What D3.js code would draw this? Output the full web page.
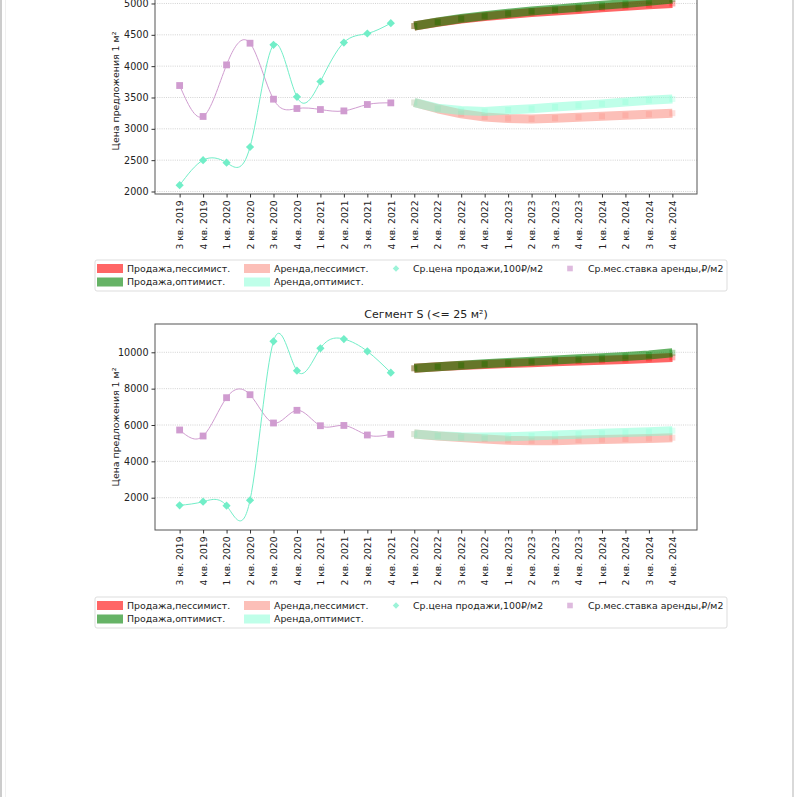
<!DOCTYPE html>
<html><head><meta charset="utf-8">
<script src="https://cdn.jsdelivr.net/npm/d3@7"></script>
<style>body{margin:0;background:#fff}svg{display:block}text{font-family:"DejaVu Sans",sans-serif}</style>
</head><body>
<svg id="c" width="795" height="797"></svg>
<script>
// ---------- DATA ----------
const quarters = ["3 кв. 2019","4 кв. 2019","1 кв. 2020","2 кв. 2020","3 кв. 2020","4 кв. 2020",
  "1 кв. 2021","2 кв. 2021","3 кв. 2021","4 кв. 2021",
  "1 кв. 2022","2 кв. 2022","3 кв. 2022","4 кв. 2022","1 кв. 2023","2 кв. 2023","3 кв. 2023","4 кв. 2023",
  "1 кв. 2024","2 кв. 2024","3 кв. 2024","4 кв. 2024"];
const histQuarters = quarters.slice(0, 10);
const foreQuarters = quarters.slice(10);

const legendLabels = ["Продажа,пессимист.","Продажа,оптимист.","Аренда,пессимист.","Аренда,оптимист.",
  "Ср.цена продажи,100₽/м2","Ср.мес.ставка аренды,₽/м2"];

// chart 1 (top, title outside the view)
const c1SalePrice = [2100,2500,2460,2710,4340,3510,3755,4377,4521,4686];
const c1Rent      = [3691,3197,4020,4366,3473,3324,3308,3286,3388,3414];
const c1SalePess  = [4640,4700,4750,4790,4825,4855,4880,4905,4930,4955,4980,5000];
const c1SaleOpt   = [4640,4705,4760,4805,4845,4880,4910,4940,4970,5000,5035,5070];
const c1RentPess  = [3420,3320,3240,3190,3165,3158,3170,3185,3200,3215,3232,3249];
const c1RentOpt   = [3420,3330,3292,3276,3300,3322,3348,3372,3398,3428,3455,3477];
const c1Ticks     = [2000,2500,3000,3500,4000,4500,5000];

// chart 2
const c2Title     = "Сегмент S (<= 25 м²)";
const c2SalePrice = [1580,1780,1560,1860,10605,8990,10220,10730,10055,8880];
const c2Rent      = [5725,5395,7503,7667,6110,6809,5960,5975,5450,5488];
const c2SalePess  = [9120,9200,9270,9330,9380,9430,9475,9520,9565,9610,9660,9720];
const c2SaleOpt   = [9120,9210,9290,9370,9440,9510,9575,9640,9705,9775,9850,9975];
const c2RentPess  = [5500,5400,5310,5230,5160,5130,5140,5170,5200,5230,5260,5300];
const c2RentOpt   = [5500,5410,5360,5340,5360,5400,5450,5490,5540,5590,5635,5690];
const c2Ticks     = [2000,4000,6000,8000,10000];

const yLabel = "Цена предложения 1 м²";

// ---------- STYLE ----------
const COL = {
  salePess: "#ff0000", saleOpt: "#008000", rentPess: "#fa8072", rentOpt: "#7fffd4",
  price: "#72eec8", rent: "#d09cd0"
};
const SALE_ALPHA = 0.6, RENT_ALPHA = 0.5;

const svg = d3.select("#c");
svg.append("rect").attr("width",795).attr("height",797).attr("fill","#fff");
// page borders
svg.append("line").attr("x1",1).attr("x2",1).attr("y1",0).attr("y2",797).attr("stroke","#bbb").attr("stroke-width",1.5);
svg.append("line").attr("x1",5.5).attr("x2",5.5).attr("y1",0).attr("y2",797).attr("stroke","#f0f0f0").attr("stroke-width",1);
svg.append("line").attr("x1",793).attr("x2",793).attr("y1",0).attr("y2",797).attr("stroke","#ccc").attr("stroke-width",1.5);

function drawChart(cfg, idx) {
  const L = 155, R = 697;
  const x = d3.scalePoint().domain(quarters).range([L, R]).padding(1.05);
  const y = d3.scaleLinear().domain(cfg.yDomain).range([cfg.bottom, cfg.top]);
  const g = svg.append("g");
  const clipId = "clip" + idx;
  g.append("clipPath").attr("id", clipId).append("rect")
    .attr("x", L).attr("y", cfg.top).attr("width", R - L).attr("height", cfg.bottom - cfg.top);

  // grid
  g.selectAll(".grid").data(cfg.ticks).join("line")
    .attr("x1", L).attr("x2", R).attr("y1", d => y(d)).attr("y2", d => y(d))
    .attr("stroke", "#c8c8c8").attr("stroke-width", 0.8).attr("stroke-dasharray", "1,1.2");

  const pg = g.append("g").attr("clip-path", `url(#${clipId})`);

  // forecast bands
  const bandLine = d3.line().x((d, i) => x(foreQuarters[i])).y(d => y(d));
  const bands = [
    [cfg.salePess, COL.salePess, SALE_ALPHA], [cfg.saleOpt, COL.saleOpt, SALE_ALPHA],
    [cfg.rentPess, COL.rentPess, RENT_ALPHA], [cfg.rentOpt, COL.rentOpt, RENT_ALPHA]
  ];
  bands.forEach(([arr, col, a]) => {
    pg.append("path").attr("d", bandLine(arr)).attr("fill", "none").attr("stroke", col)
      .attr("stroke-opacity", a).attr("stroke-width", 9).attr("stroke-linejoin", "round");
    pg.selectAll(null).data(arr).join("rect")
      .attr("x", (d, i) => x(foreQuarters[i]) - 3).attr("y", d => y(d) - 3)
      .attr("width", 6).attr("height", 6).attr("fill", col).attr("fill-opacity", a * 0.5);
  });

  // historical smooth curves
  const histLine = d3.line().x((d, i) => x(histQuarters[i])).y(d => y(d)).curve(d3.curveNatural);
  pg.append("path").attr("d", histLine(cfg.rent)).attr("fill", "none").attr("stroke", COL.rent).attr("stroke-width", 1);
  pg.append("path").attr("d", histLine(cfg.price)).attr("fill", "none").attr("stroke", COL.price).attr("stroke-width", 1);
  pg.selectAll(null).data(cfg.rent).join("rect")
    .attr("x", (d, i) => x(histQuarters[i]) - 3.4).attr("y", d => y(d) - 3.4)
    .attr("width", 6.8).attr("height", 6.8).attr("fill", COL.rent);
  pg.selectAll(null).data(cfg.price).join("rect")
    .attr("width", 5.8).attr("height", 5.8).attr("x", -2.9).attr("y", -2.9)
    .attr("transform", (d, i) => `translate(${x(histQuarters[i])},${y(d)}) rotate(45)`)
    .attr("fill", COL.price);

  // spines
  const sp = g.append("g").attr("stroke", "#555").attr("stroke-width", 1).attr("fill", "none");
  sp.append("rect").attr("x", L).attr("y", cfg.top).attr("width", R - L).attr("height", cfg.bottom - cfg.top);

  // y axis
  const ya = g.append("g").attr("transform", `translate(${L},0)`)
    .call(d3.axisLeft(y).tickValues(cfg.ticks).tickSize(3.5).tickPadding(3).tickFormat(d3.format("d")));
  ya.select(".domain").remove();
  ya.selectAll("line").attr("stroke", "#333");
  ya.selectAll("text").attr("font-size", 9.6).attr("fill", "#222").attr("font-family", "DejaVu Sans");

  // x axis
  const xa = g.append("g").attr("transform", `translate(0,${cfg.bottom})`)
    .call(d3.axisBottom(x).tickSize(3.5).tickPadding(3));
  xa.select(".domain").remove();
  xa.selectAll("line").attr("stroke", "#333");
  xa.selectAll("text").attr("font-size", 9.2).attr("fill", "#222").attr("font-family", "DejaVu Sans")
    .attr("text-anchor", "end").attr("transform", "rotate(-90)")
    .attr("x", -6.5).attr("y", 0).attr("dy", "0.35em");

  // y label
  g.append("text").attr("transform", `translate(119,${(cfg.top + cfg.bottom) / 2}) rotate(-90)`)
    .attr("text-anchor", "middle").attr("font-size", 9.4).attr("fill", "#222").text(yLabel);

  if (cfg.title) {
    g.append("text").attr("x", (L + R) / 2).attr("y", cfg.top - 6).attr("text-anchor", "middle")
      .attr("font-size", 11).attr("fill", "#222").text(cfg.title);
  }

  // legend
  const lg = g.append("g").attr("transform", `translate(95,${cfg.legendTop})`);
  lg.append("rect").attr("x", 0).attr("y", 0).attr("width", 632).attr("height", 31).attr("rx", 2)
    .attr("fill", "#fff").attr("stroke", "#ddd").attr("stroke-width", 1);
  const r1 = 8.5, r2 = 22;
  const items = [
    {type: "patch", col: COL.salePess, a: SALE_ALPHA, px: 2, tx: 32, y: r1, label: legendLabels[0]},
    {type: "patch", col: COL.saleOpt, a: SALE_ALPHA, px: 2, tx: 32, y: r2, label: legendLabels[1]},
    {type: "patch", col: COL.rentPess, a: RENT_ALPHA, px: 149, tx: 179, y: r1, label: legendLabels[2]},
    {type: "patch", col: COL.rentOpt, a: RENT_ALPHA, px: 149, tx: 179, y: r2, label: legendLabels[3]},
    {type: "diamond", col: COL.price, px: 301, tx: 318, y: r1, label: legendLabels[4]},
    {type: "square", col: COL.rent, px: 475, tx: 493, y: r1, label: legendLabels[5]}
  ];
  items.forEach(it => {
    if (it.type === "patch") {
      lg.append("rect").attr("x", it.px).attr("y", it.y - 4.5).attr("width", 26).attr("height", 9)
        .attr("fill", it.col).attr("fill-opacity", it.a);
    } else if (it.type === "diamond") {
      lg.append("rect").attr("x", -2.3).attr("y", -2.3).attr("width", 4.6).attr("height", 4.6)
        .attr("transform", `translate(${it.px},${it.y}) rotate(45)`).attr("fill", it.col).attr("fill-opacity", 0.7);
    } else {
      lg.append("rect").attr("x", it.px - 2.8).attr("y", it.y - 2.8).attr("width", 5.6).attr("height", 5.6)
        .attr("fill", it.col).attr("fill-opacity", 0.7);
    }
    lg.append("text").attr("x", it.tx).attr("y", it.y).attr("dy", "0.35em")
      .attr("font-size", 9.4).attr("fill", "#222").text(it.label);
  });
}

drawChart({
  yDomain: [1960, 5247], top: -12, bottom: 194, ticks: c1Ticks, title: null,
  price: c1SalePrice, rent: c1Rent, salePess: c1SalePess, saleOpt: c1SaleOpt,
  rentPess: c1RentPess, rentOpt: c1RentOpt, legendTop: 260
}, 1);

drawChart({
  yDomain: [223, 11557], top: 324, bottom: 530, ticks: c2Ticks, title: c2Title,
  price: c2SalePrice, rent: c2Rent, salePess: c2SalePess, saleOpt: c2SaleOpt,
  rentPess: c2RentPess, rentOpt: c2RentOpt, legendTop: 597
}, 2);
</script>
</body></html>
